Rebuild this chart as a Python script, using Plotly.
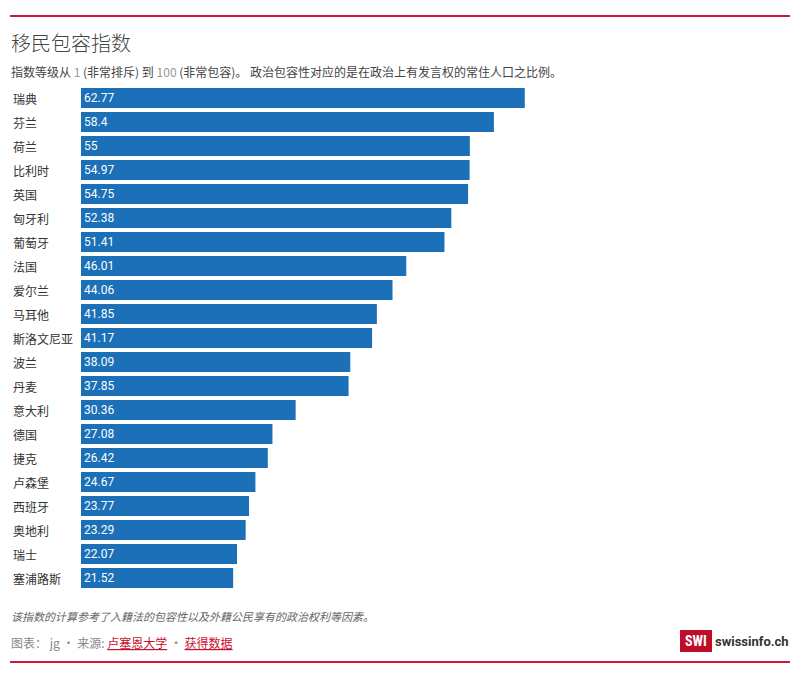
import plotly.graph_objects as go

countries = ["瑞典", "芬兰", "荷兰", "比利时", "英国", "匈牙利", "葡萄牙", "法国", "爱尔兰", "马耳他",
             "斯洛文尼亚", "波兰", "丹麦", "意大利", "德国", "捷克", "卢森堡", "西班牙", "奥地利", "瑞士", "塞浦路斯"]
values = [62.77, 58.4, 55, 54.97, 54.75, 52.38, 51.41, 46.01, 44.06, 41.85,
          41.17, 38.09, 37.85, 30.36, 27.08, 26.42, 24.67, 23.77, 23.29, 22.07, 21.52]
labels = [f"{v:g}" for v in values]

W, H = 809, 684
L, R, T, B = 81, 21, 86, 94
pw, ph = W - L - R, H - T - B

def px(x):
    return (x - L) / pw

def py(y):
    return 1 - (y - T) / ph

FONT = "Noto Sans CJK SC, Roboto, sans-serif"
RED = "#d4163c"

fig = go.Figure(go.Bar(
    x=values, y=countries, orientation="h",
    marker=dict(color="#1b70b8", line=dict(width=0)),
    text=labels, textposition="inside", insidetextanchor="start", textangle=0,
    textfont=dict(color="white", size=12, family="Roboto, sans-serif"),
    constraintext="none", hoverinfo="skip",
))

annotations = []
for c in countries:
    annotations.append(dict(xref="paper", yref="y", x=px(11), y=c, text=c, showarrow=False,
                            xanchor="left", yanchor="middle",
                            font=dict(size=12, color="#333333", family=FONT)))

annotations += [
    dict(xref="paper", yref="paper", x=px(9), y=py(42), text="移民包容指数", showarrow=False,
         xanchor="left", yanchor="middle", font=dict(size=20, color="#444444", family=FONT, weight=300)),
    dict(xref="paper", yref="paper", x=px(9), y=py(71),
         text="指数等级从 <span style='color:#999'>1</span> (非常排斥) 到 <span style='color:#999'>100</span> (非常包容)。 政治包容性对应的是在政治上有发言权的常住人口之比例。",
         showarrow=False, xanchor="left", yanchor="middle",
         font=dict(size=12, color="#444444", family=FONT)),
    dict(xref="paper", yref="paper", x=px(9), y=py(616),
         text="<i>该指数的计算参考了入籍法的包容性以及外籍公民享有的政治权利等因素。</i>",
         showarrow=False, xanchor="left", yanchor="middle",
         font=dict(size=11, color="#666666", family=FONT)),
    dict(xref="paper", yref="paper", x=px(9), y=py(642),
         text="图表： jg • 来源: <span style='color:#c8102e'><u>卢塞恩大学</u></span> • <span style='color:#c8102e'><u>获得数据</u></span>",
         showarrow=False, xanchor="left", yanchor="middle",
         font=dict(size=12, color="#888888", family=FONT)),
    dict(xref="paper", yref="paper", x=px(696), y=py(641), text="<b>SWI</b>",
         showarrow=False, xanchor="center", yanchor="middle",
         font=dict(size=14, color="white", family="Roboto Condensed, Roboto, sans-serif")),
    dict(xref="paper", yref="paper", x=px(791), y=py(641), text="<b>swissinfo.ch</b>",
         showarrow=False, xanchor="right", yanchor="middle",
         font=dict(size=13, color="#333333", family="Roboto, sans-serif")),
]

shapes = [
    dict(type="line", xref="paper", yref="paper", x0=px(10), x1=px(790), y0=py(16), y1=py(16),
         line=dict(color=RED, width=2)),
    dict(type="line", xref="paper", yref="paper", x0=px(10), x1=px(790), y0=py(662), y1=py(662),
         line=dict(color=RED, width=2)),
    dict(type="rect", xref="paper", yref="paper", x0=px(680), x1=px(712), y0=py(630), y1=py(652),
         fillcolor="#c00d2a", line=dict(width=0)),
]

fig.update_layout(
    width=W, height=H,
    margin=dict(l=L, r=R, t=T, b=B),
    paper_bgcolor="white", plot_bgcolor="white",
    showlegend=False, bargap=0.17,
    xaxis=dict(range=[0, 100], visible=False, fixedrange=True),
    yaxis=dict(autorange="reversed", showticklabels=False, showgrid=False, zeroline=False, fixedrange=True),
    annotations=annotations, shapes=shapes,
)

fig.write_html("out.html", config={"displayModeBar": False},
               post_script="document.body.style.margin='0';document.body.style.overflow='hidden';")
